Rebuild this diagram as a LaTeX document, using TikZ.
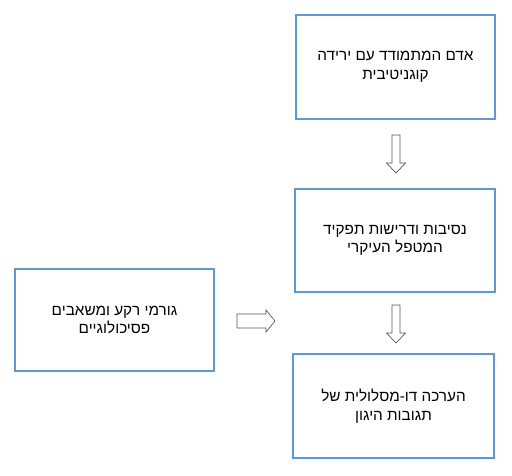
\documentclass[tikz,border=0pt]{standalone}
\usepackage{fontspec}
\newfontfamily\hebfont[Script=Hebrew]{Liberation Sans}
\TeXXeTstate=1
\definecolor{boxblue}{HTML}{5B9BD5}
\definecolor{arrowgray}{HTML}{595959}
\tikzset{
  stagebox/.style={draw=boxblue, line width=1.6pt, fill=white, align=center,
    font=\hebfont\fontsize{15.3}{18.5}\selectfont, inner sep=0pt},
  blockarrow/.style={draw=arrowgray, line width=0.7pt, fill=white, line join=miter},
  downarrow/.pic={\draw[blockarrow] (-4,19) -- (4,19) -- (4,-9) -- (9.5,-9) -- (0,-19) -- (-9.5,-9) -- (-4,-9) -- cycle;},
  rightarrow/.pic={\draw[blockarrow] (-19,7) -- (10,7) -- (10,11) -- (19,0) -- (10,-11) -- (10,-7) -- (-19,-7) -- cycle;}
}
\begin{document}
\begin{tikzpicture}[x=1pt,y=1pt]
\useasboundingbox[fill=white] (0,0) rectangle (512,475);
\node[stagebox, minimum width=199pt, minimum height=104pt] (person) at (395.5,408)
  {\beginR אדם המתמודד עם ירידה\endR\\ \beginR קוגניטיבית\endR};
\node[stagebox, minimum width=200pt, minimum height=103pt] (role) at (395,234.5)
  {\beginR נסיבות ודרישות תפקיד\endR\\ \beginR המטפל העיקרי\endR};
\node[stagebox, minimum width=201pt, minimum height=104pt] (appraisal) at (393.5,69)
  {\beginR הערכה דו-מסלולית של\endR\\ \beginR תגובות היגון\endR};
\node[stagebox, minimum width=199pt, minimum height=102pt] (background) at (114.5,155)
  {\beginR גורמי רקע ומשאבים\endR\\ \beginR פסיכולוגיים\endR};
\coordinate (a1) at (396,321);
\coordinate (a2) at (396,151);
\coordinate (a3) at (256,154);
\pic at (a1) {downarrow};
\pic at (a2) {downarrow};
\pic at (a3) {rightarrow};
\end{tikzpicture}
\end{document}
